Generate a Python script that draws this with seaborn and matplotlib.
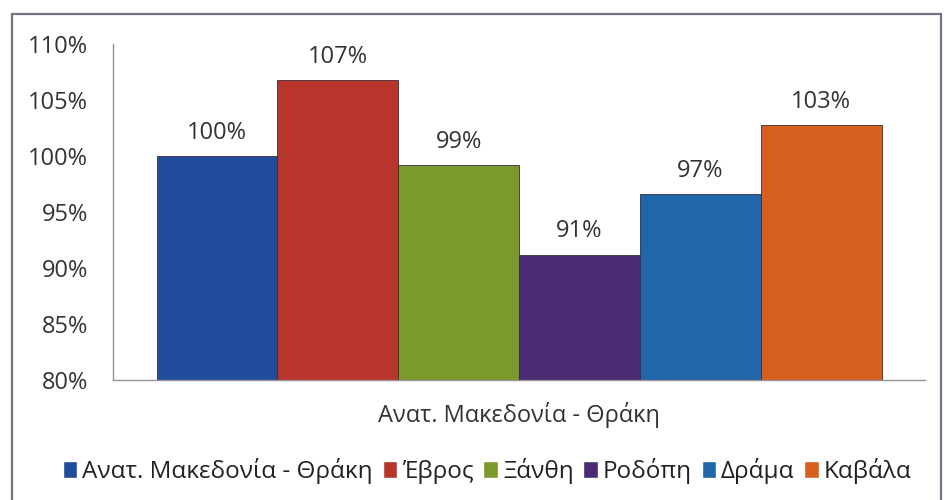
import pandas as pd
import matplotlib.pyplot as plt
import seaborn as sns
from matplotlib.patches import Rectangle

# Data
region = 'Ανατ. Μακεδονία - Θράκη'
series = ['Ανατ. Μακεδονία - Θράκη', 'Έβρος', 'Ξάνθη', 'Ροδόπη', 'Δράμα', 'Καβάλα']
values = [1.000, 1.068, 0.992, 0.912, 0.966, 1.028]
colors = ['#1f4d9c', '#b8352b', '#7b9a2b', '#4a2a72', '#1f66ab', '#d65f1d']
yticks = [0.80, 0.85, 0.90, 0.95, 1.00, 1.05, 1.10]

data = pd.DataFrame({'region': [region] * len(series), 'series': series, 'value': values})

sns.set_style('white')
plt.rcParams['font.family'] = ['Open Sans', 'DejaVu Sans']

fig = plt.figure(figsize=(9.44, 5.0), dpi=100)
ax = fig.add_axes([0.1197, 0.24, 0.98 - 0.1197, 0.912 - 0.24])

sns.barplot(data=data, x='region', y='value', hue='series', palette=colors,
            width=0.8, dodge=True, saturation=1, ax=ax, legend=True)

for cont in ax.containers:
    for bar in cont:
        bar.set_edgecolor('#3a2a3a')
        bar.set_linewidth(0.6)
    ax.bar_label(cont, labels=[f'{round(v * 100)}%' for v in cont.datavalues],
                 padding=8, fontsize=17, color='#333333')

ax.set_ylim(0.80, 1.10)
ax.set_xlim(-0.448, 0.448)
ax.set_yticks(yticks)
ax.set_yticklabels([f'{round(t * 100)}%' for t in yticks], fontsize=17, color='#333333')
ax.tick_params(axis='x', labelsize=17, colors='#333333', pad=16, length=0)
ax.tick_params(axis='y', length=0, pad=18)
ax.set_xlabel('')
ax.set_ylabel('')
for side in ['top', 'right']:
    ax.spines[side].set_visible(False)
for side in ['left', 'bottom']:
    ax.spines[side].set_color('#9a909a')
    ax.spines[side].set_linewidth(1.0)

handles, labels = ax.get_legend_handles_labels()
ax.get_legend().remove()
fig.legend(handles, labels, loc='center', bbox_to_anchor=(0.516, 0.058), ncol=6,
           frameon=False, fontsize=17.5, handlelength=0.6, handleheight=0.7,
           handletextpad=0.2, columnspacing=0.4, labelcolor='#222222')

fig.patches.append(Rectangle((12 / 944, -0.01), 929 / 944, 1 - 14 / 500 + 0.01,
                             transform=fig.transFigure, fill=False,
                             edgecolor='#7a6f80', linewidth=1.6))

fig.savefig('out.png', dpi=100)
